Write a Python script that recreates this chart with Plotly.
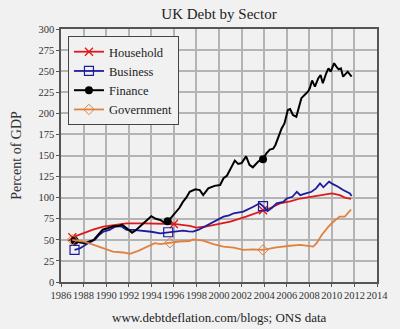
import numpy as np
import plotly.graph_objects as go

# ---- data (percent of GDP) ----
household_x = [1987.0, 1987.5, 1988.1, 1988.9, 1989.75, 1990.6, 1991.8, 1993.3, 1994.8, 1996.0,
               1997.4, 1998.0, 1998.7, 1999.5, 2001.0, 2002.4, 2003.2, 2003.9, 2004.6, 2005.4,
               2006.3, 2007.2, 2008.65, 2010.0, 2010.7, 2011.15, 2011.7]
household_y = [53, 55.5, 57.7, 62.5, 65.6, 67.6, 69.6, 69.6, 69.6, 68.8,
               66.5, 64.5, 65.5, 67.6, 71.5, 77.5, 81, 85, 88, 93.3,
               95.5, 99, 102, 105, 103, 100, 98.5]

business_x = [1987.2, 1987.7, 1988.4, 1989.0, 1989.4, 1989.75, 1990.3, 1990.9, 1991.4, 1991.8,
              1992.4, 1993.1, 1994.0, 1994.8, 1995.5, 1996.2, 1996.8, 1997.3, 1997.7, 1998.2,
              1998.6, 1999.5, 2000.4, 2000.9, 2001.3, 2002.15, 2002.6, 2003.0, 2003.6, 2003.9,
              2004.3, 2004.7, 2005.1, 2005.7, 2006.0, 2006.5, 2006.9, 2007.2, 2007.7, 2008.2,
              2008.6, 2008.95, 2009.25, 2009.75, 2010.1, 2010.55, 2011.0, 2011.6, 2011.75]
business_y = [38, 40, 46, 50, 56, 59.6, 61.7, 66.4, 65.6, 61.7,
              61.7, 61, 59.6, 57.7, 59, 59.6, 61, 60, 59.7, 62,
              65, 71.5, 77.5, 79, 81.5, 83.4, 86, 89, 93.3, 90,
              84, 88, 93.3, 95, 99, 101, 107, 103, 105, 107,
              111, 117, 112.3, 119, 116, 113, 109, 105, 102]

finance_x = [1987.2, 1987.6, 1988.1, 1988.5, 1988.9, 1989.3, 1989.7, 1990.2, 1990.6, 1991.0,
             1991.4, 1991.8, 1992.3, 1992.6, 1993.0, 1993.5, 1994.0, 1994.4, 1994.8, 1995.2,
             1995.45, 1995.8, 1996.1, 1996.5, 1996.8, 1997.1, 1997.4, 1997.9, 1998.3, 1998.6,
             1999.05, 1999.6, 2000.1, 2000.4, 2000.7, 2001.1, 2001.4, 2001.7, 2002.0, 2002.4,
             2002.7, 2003.0, 2003.5, 2003.9, 2004.2, 2004.5, 2004.8, 2005.0, 2005.25, 2005.55,
             2005.8, 2006.1, 2006.3, 2006.55, 2006.85, 2007.1, 2007.3, 2007.6, 2007.9, 2008.05,
             2008.25, 2008.5, 2008.8, 2009.0, 2009.2, 2009.5, 2009.7, 2009.9, 2010.2, 2010.4,
             2010.6, 2010.8, 2011.0, 2011.4, 2011.5, 2011.75]
finance_y = [49, 47, 46, 48, 50, 56, 62, 64, 66, 66,
             68, 64, 58.5, 61, 66, 72, 78, 75, 73.5, 70,
             72, 77, 81.5, 88, 95, 100, 107, 110, 109, 103,
             111, 114, 115, 123, 126, 137, 144, 140, 141, 149,
             139, 136, 143, 145.5, 152.6, 157, 158, 162.5, 172, 182,
             188, 204, 205, 198, 196, 208, 218, 222, 226, 230,
             239, 231.6, 241.6, 245.5, 235.7, 247.5, 253.4, 249.4, 259.4, 255.4,
             252.2, 253.4, 243.5, 249.4, 248, 243.5]

government_x = [1987.0, 1988.0, 1988.9, 1989.75, 1990.6, 1991.5, 1992.1, 1992.85, 1993.6, 1994.3,
                1994.8, 1995.65, 1996.5, 1997.4, 1997.7, 1998.6, 1999.5, 2000.4, 2001.3, 2002.15,
                2003.0, 2003.9, 2005.1, 2006.3, 2007.2, 2008.35, 2008.65, 2009.1, 2009.7, 2010.3,
                2010.7, 2011.15, 2011.45, 2011.7]
government_y = [50, 48, 44, 40, 36, 35, 33.5, 37, 42, 46,
                45, 46.6, 48, 48.6, 50.6, 49, 45, 42, 40.7, 38,
                38.8, 38, 41, 43, 44, 42, 46, 55.7, 65.6, 73.5,
                77.5, 77.5, 81.5, 86]

marker_years = [1987.1, 1995.5, 2003.9]
year_ticks = list(range(1986, 2015, 2))
pct_ticks = list(range(0, 301, 25))

series = [
    ("Household", household_x, household_y, "#dd1a1a", dict(symbol="x-thin-open", size=8, line=dict(width=1.3, color="#dd1a1a")), 1.8),
    ("Business", business_x, business_y, "#1c1c9c", dict(symbol="square-open", size=9, line=dict(width=1.2, color="#1c1c9c")), 1.8),
    ("Finance", finance_x, finance_y, "#000000", dict(symbol="circle", size=8), 2.0),
    ("Government", government_x, government_y, "#e0813f", dict(symbol="diamond-open", size=8, line=dict(width=1, color="#e0813f")), 1.8),
]

SERIF = "Liberation Serif"
BG = "#f1f1f1"

fig = go.Figure()
for name, xs, ys, color, mk, lw in series:
    xs_a = np.array(xs)
    ys_a = np.array(ys)
    # the line itself
    fig.add_trace(go.Scatter(x=xs, y=ys, mode="lines", name=name, legendgroup=name,
                             showlegend=False, line=dict(color=color, width=lw)))
    # sparse markers placed on the nearest data point
    idx = [int(np.argmin(np.abs(xs_a - yr))) for yr in marker_years]
    fig.add_trace(go.Scatter(x=xs_a[idx], y=ys_a[idx], mode="markers", legendgroup=name,
                             showlegend=False, marker=dict(color=color, **mk)))
    # legend entry: line with marker
    fig.add_trace(go.Scatter(x=[None], y=[None], mode="lines+markers", name=name, legendgroup=name,
                             line=dict(color=color, width=lw), marker=dict(color=color, **mk)))

fig.update_layout(
    width=400, height=329,
    margin=dict(l=61, r=23, t=29, b=47),
    paper_bgcolor=BG, plot_bgcolor=BG,
    font=dict(family=SERIF, color="#333333", size=11),
    title=dict(text="UK Debt by Sector", x=0.5, xref="paper", xanchor="center",
               y=1 - 14 / 329, yanchor="middle", font=dict(size=15, color="#222222", family=SERIF)),
    showlegend=True,
    legend=dict(x=0.022, y=0.972, xanchor="left", yanchor="top",
                bgcolor=BG, bordercolor="#444444", borderwidth=1,
                font=dict(size=12.5, family=SERIF, color="#222222"),
                itemwidth=30, tracegroupgap=0),
    xaxis=dict(range=[1986, 2014], tickvals=year_ticks, ticktext=[str(t) for t in year_ticks],
               tickangle=0,
               showgrid=True, gridcolor="#b4b4b4", gridwidth=1.5,
               showline=True, linecolor="#555555", linewidth=1.5, mirror=True,
               ticks="outside", ticklen=3, tickcolor="#555555",
               tickfont=dict(size=10.5, family=SERIF, color="#333333"), zeroline=False),
    yaxis=dict(range=[0, 300], tickvals=pct_ticks,
               showgrid=True, gridcolor="#b4b4b4", gridwidth=1.5,
               showline=True, linecolor="#555555", linewidth=1.5, mirror=True,
               ticks="outside", ticklen=3, tickcolor="#555555",
               tickfont=dict(size=10.5, family=SERIF, color="#333333"), zeroline=False,
               title=dict(text="Percent of GDP", standoff=14,
                          font=dict(size=14, family=SERIF, color="#333333"))),
    annotations=[dict(text="www.debtdeflation.com/blogs; ONS data", xref="paper", yref="paper",
                      x=0.5, y=-35 / 253, xanchor="center", yanchor="middle", showarrow=False,
                      font=dict(size=13, family=SERIF, color="#222222"))],
)

fig.write_html("out.html")
